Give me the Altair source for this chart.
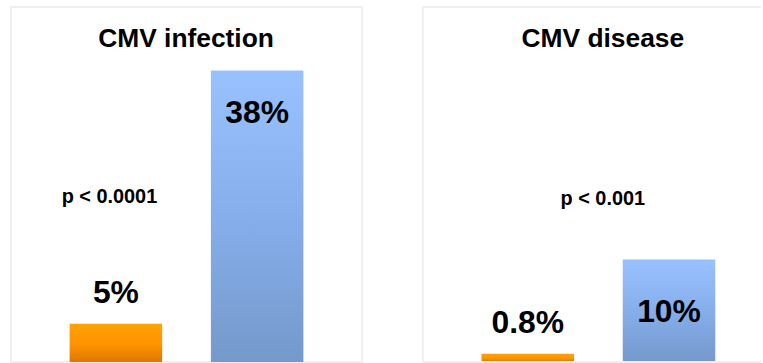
import altair as alt
import pandas as pd

# Two treatment arms compared in each panel
arms = ["A", "B"]

infection_title = "CMV infection"
infection_values = [5, 38]
infection_labels = ["5%", "38%"]
infection_p = "p < 0.0001"

disease_title = "CMV disease"
disease_values = [0.8, 10]
disease_labels = ["0.8%", "10%"]
disease_p = "p < 0.001"

FONT = "Liberation Sans"
BORDER = "#EFEFEF"
PANEL_H = 357

ORANGE = alt.Gradient(
    gradient="linear", x1=0, x2=0, y1=0, y2=1,
    stops=[
        alt.GradientStop(color="#FFA300", offset=0),
        alt.GradientStop(color="#FF9200", offset=0.55),
        alt.GradientStop(color="#DC7800", offset=1),
    ],
)
BLUE = alt.Gradient(
    gradient="linear", x1=0, x2=0, y1=0, y2=1,
    stops=[
        alt.GradientStop(color="#98C2FF", offset=0),
        alt.GradientStop(color="#86AEEB", offset=0.5),
        alt.GradientStop(color="#7499CB", offset=1),
    ],
)


def panel(title, values, labels, pval, ymax, width, title_x, p_x, p_y,
          inside_dy, framed):
    df = pd.DataFrame({"arm": arms, "value": values, "label": labels})
    x = alt.X("arm:N", sort=arms, axis=None,
              scale=alt.Scale(domain=arms, range=[0, 353],
                              paddingInner=0.345, paddingOuter=0.4155))
    y = alt.Y("value:Q", axis=None,
              scale=alt.Scale(domain=[0, ymax], nice=False, zero=True))
    base = alt.Chart(df).encode(x=x, y=y)

    bar_a = base.transform_filter(alt.datum.arm == "A").mark_bar(color=ORANGE)
    bar_b = base.transform_filter(alt.datum.arm == "B").mark_bar(color=BLUE)

    text_style = dict(font=FONT, fontWeight="bold", fontSize=32,
                      color="black", baseline="alphabetic", align="center")
    label_a = base.transform_filter(alt.datum.arm == "A").mark_text(
        dy=-21, **text_style).encode(text="label:N")
    label_b = base.transform_filter(alt.datum.arm == "B").mark_text(
        dy=inside_dy, **text_style).encode(text="label:N")

    head = alt.Chart(pd.DataFrame({"t": [title]})).mark_text(
        font=FONT, fontWeight="bold", fontSize=26.5, color="black",
        baseline="alphabetic", align="center",
    ).encode(text="t:N", x=alt.value(title_x), y=alt.value(40))

    ptext = alt.Chart(pd.DataFrame({"t": [pval]})).mark_text(
        font=FONT, fontWeight="bold", fontSize=20, color="black",
        baseline="alphabetic", align="center",
    ).encode(text="t:N", x=alt.value(p_x), y=alt.value(p_y))

    layers = [bar_a, bar_b, label_a, label_b, head, ptext]

    if not framed:
        # open-ended frame: top, left and bottom edges only
        one = pd.DataFrame({"k": [0]})
        rule = alt.Chart(one).mark_rule(color=BORDER, strokeWidth=2)
        layers += [
            rule.encode(x=alt.value(0), x2=alt.value(width), y=alt.value(0)),
            rule.encode(x=alt.value(0), x2=alt.value(width), y=alt.value(PANEL_H)),
            rule.encode(x=alt.value(0), y=alt.value(0), y2=alt.value(PANEL_H)),
        ]

    chart = alt.layer(*layers).properties(width=width, height=PANEL_H)
    if framed:
        chart = chart.properties(
            view=alt.ViewBackground(stroke=BORDER, strokeWidth=2))
    return chart


left = panel(infection_title, infection_values, infection_labels, infection_p,
             ymax=46.3, width=353, title_x=176, p_x=99, p_y=197,
             inside_dy=53, framed=True)
right = panel(disease_title, disease_values, disease_labels, disease_p,
              ymax=34.66, width=340, title_x=181, p_x=181, p_y=199,
              inside_dy=63, framed=False)

chart = (
    alt.hconcat(left, right, spacing=58)
    .properties(padding={"left": 10, "top": 4, "right": 0, "bottom": 0},
                background="white")
    .configure_view(stroke="transparent")
)

chart.save("out.html", embed_options={"renderer": "svg", "actions": False})
